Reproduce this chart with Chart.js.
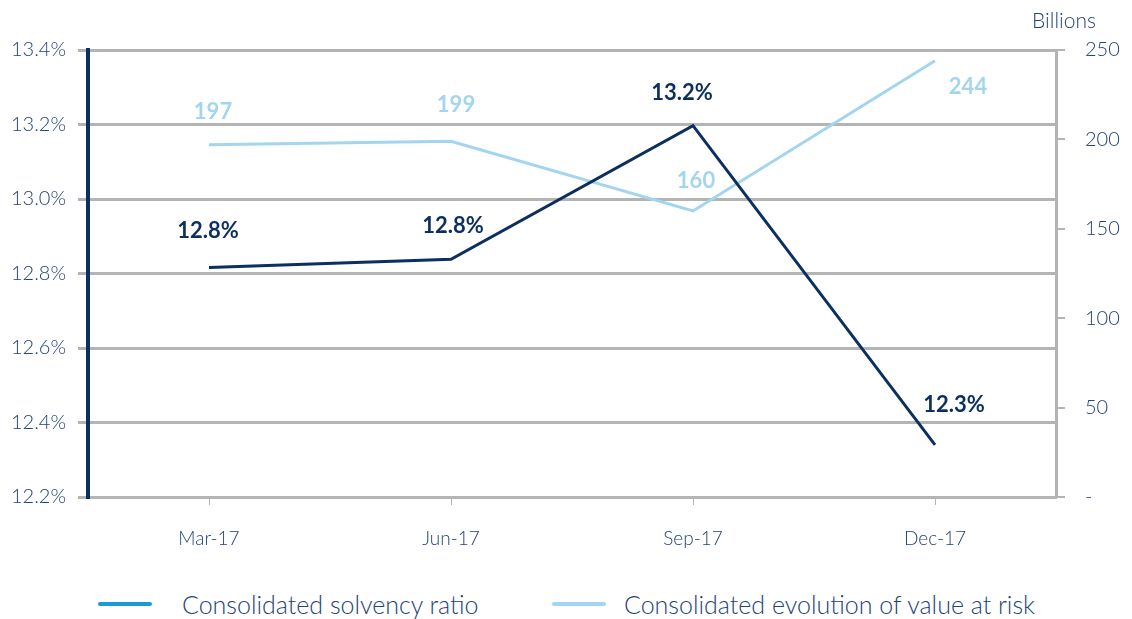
<!DOCTYPE html>
<html>
<head>
<meta charset="utf-8">
<script src="https://cdn.jsdelivr.net/npm/chart.js@4.4.1/dist/chart.umd.min.js"></script>
<style>
  html, body { margin: 0; padding: 0; background: #fff; }
  #wrap { position: relative; width: 1132px; height: 580px; }
  #legend { position: relative; width: 1132px; height: 39px; font-family: Lato, "Open Sans", sans-serif; font-weight: 300; font-size: 25px; color: #24437a; }
  .item { position: absolute; top: 4px; height: 39px; display: flex; align-items: center; }
  .swatch { width: 54px; height: 4px; border-radius: 2px; }
</style>
</head>
<body>
<div id="wrap"><canvas id="grafico"></canvas></div>
<div id="legend"></div>
<script>
const meses = ['Mar-17', 'Jun-17', 'Sep-17', 'Dec-17'];
const solvencia = [12.816, 12.838, 13.197, 12.34];
const valorRisco = [197, 199, 160, 244];
const nomesSeries = ['Consolidated solvency ratio', 'Consolidated evolution of value at risk'];

const azulEscuro = '#0b2f5f';
const azulClaro = '#a3d5f0';
const corLegenda = ['#1a9ad6', '#a3d5f0'];
const cinza = '#b4b4b4';
const corTexto = '#24437a';

// posicao de cada rotulo em relacao ao ponto
const deslocSolvencia = [[-1, -37], [2, -33], [-11, -33], [19, -40]];
const deslocRisco = [[4, -33], [5, -36], [3, -30], [33, 26]];

const rotulos = {
  id: 'rotulos',
  afterDatasetsDraw(chart) {
    const ctx = chart.ctx;
    ctx.save();
    ctx.font = 'bold 22px Lato, "Open Sans", sans-serif';
    ctx.textAlign = 'center';
    ctx.textBaseline = 'middle';
    chart.data.datasets.forEach((ds, i) => {
      const meta = chart.getDatasetMeta(i);
      const desloc = i === 0 ? deslocSolvencia : deslocRisco;
      ctx.fillStyle = i === 0 ? azulEscuro : azulClaro;
      meta.data.forEach((p, j) => {
        const v = ds.data[j];
        const txt = i === 0 ? v.toFixed(1) + '%' : String(Math.round(v));
        ctx.fillText(txt, p.x + desloc[j][0], p.y + desloc[j][1]);
      });
    });
    ctx.font = '300 21px Lato, "Open Sans", sans-serif';
    ctx.fillStyle = corTexto;
    ctx.fillText('Billions', 1064, 21);
    ctx.restore();
  }
};

const graficoEl = document.getElementById('grafico');
new Chart(graficoEl, {
  type: 'line',
  data: {
    labels: meses,
    datasets: [{
      label: nomesSeries[0],
      data: solvencia,
      borderColor: azulEscuro,
      borderWidth: 3,
      pointRadius: 0,
      yAxisID: 'y',
      order: 1
    }, {
      label: nomesSeries[1],
      data: valorRisco,
      borderColor: azulClaro,
      borderWidth: 3,
      pointRadius: 0,
      yAxisID: 'y1',
      order: 2
    }]
  },
  options: {
    responsive: true,
    maintainAspectRatio: false,
    animation: false,
    layout: { padding: { top: 50, left: 0, right: 0, bottom: 0 } },
    plugins: {
      legend: { display: false },
      tooltip: { enabled: false }
    },
    scales: {
      x: {
        offset: true,
        afterFit: (s) => { s.height = 83; },
        grid: { drawOnChartArea: false, color: cinza, lineWidth: 1, tickLength: 8 },
        border: { color: cinza, width: 3 },
        ticks: { color: corTexto, padding: 22, font: { family: 'Lato', weight: 300, size: 19 } }
      },
      y: {
        position: 'left',
        min: 12.2,
        max: 13.4,
        afterFit: (s) => { s.width = 88; },
        grid: { color: cinza, lineWidth: 3, tickLength: 10 },
        border: { color: azulEscuro, width: 4 },
        ticks: {
          stepSize: 0.2,
          color: corTexto,
          padding: 12,
          font: { family: 'Lato', weight: 300, size: 20 },
          callback: (v) => v.toFixed(1) + '%'
        }
      },
      y1: {
        position: 'right',
        min: 0,
        max: 250,
        afterFit: (s) => { s.width = 76; },
        grid: { drawOnChartArea: false, color: cinza, lineWidth: 2, tickLength: 9 },
        border: { color: cinza, width: 3 },
        ticks: {
          stepSize: 50,
          color: corTexto,
          padding: 20,
          font: { family: 'Lato', weight: 300, size: 20 },
          callback: (v) => v === 0 ? '-' : v
        }
      }
    }
  },
  plugins: [rotulos]
});

// legenda em html
const legenda = document.getElementById('legend');
const posLegenda = [98, 552];
nomesSeries.forEach((nome, i) => {
  const item = document.createElement('div');
  item.className = 'item';
  item.style.left = posLegenda[i] + 'px';
  const sw = document.createElement('span');
  sw.className = 'swatch';
  sw.style.background = corLegenda[i];
  sw.style.marginRight = (i === 0 ? 30 : 18) + 'px';
  const t = document.createElement('span');
  t.textContent = nome;
  item.appendChild(sw);
  item.appendChild(t);
  legenda.appendChild(item);
});
</script>
</body>
</html>
